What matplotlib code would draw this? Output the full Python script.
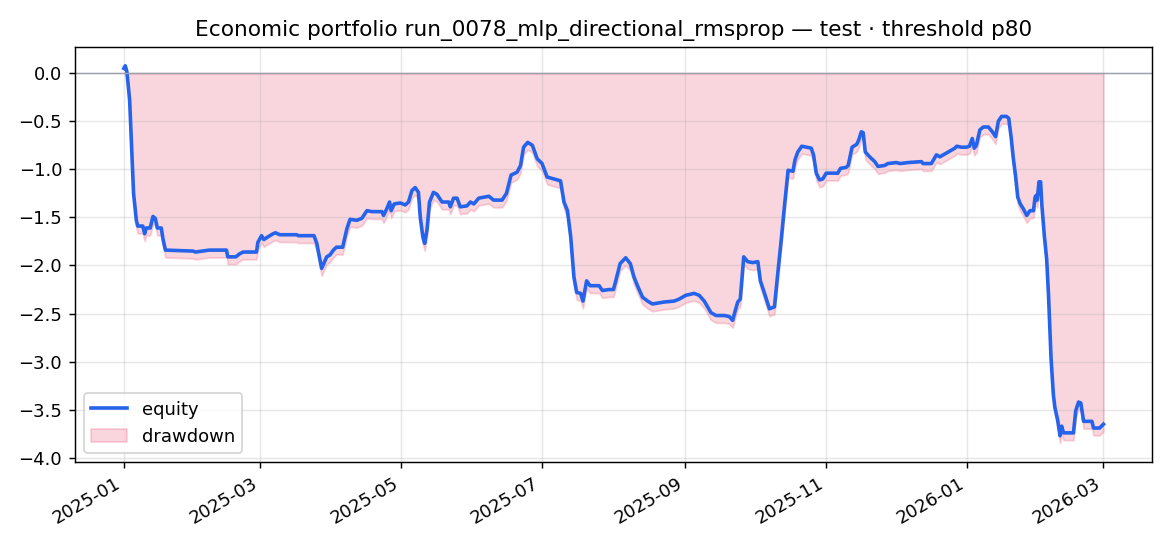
import numpy as np
import pandas as pd
import matplotlib
matplotlib.use("Agg")
import matplotlib.pyplot as plt
import matplotlib.dates as mdates

# days since 2025-01-01 and equity value
days = [0, 0.6, 1.3, 2.5, 4.2, 5.4, 6, 8.2, 9, 9.7, 11.4, 12.6, 13.6, 14.5, 16.2, 16.9, 18,
        29.9, 31, 37, 44.4, 45, 48.5, 50, 51.6, 57.4, 58, 59.6, 60.6, 62.5, 64.6, 65.6, 67.5,
        74.8, 75.5, 82.3, 83.5, 85.6, 87.8, 89.2, 90.7, 92, 94.7, 96.5, 97.9, 100.8, 103,
        105.2, 107.4, 111.7, 112.4, 113.8, 115, 115.7, 117, 119.6, 121.8, 123.2, 124.7,
        126.1, 127.5, 128.3, 129.4, 130.2, 131.2, 132.3, 134, 135.5, 137.7, 140.6, 141.3,
        142.7, 144.2, 145.6, 148.5, 150, 151.5, 153.6, 158, 160, 163.7, 165.6, 167.6, 170.2,
        171.7, 173, 174.8, 176.8, 178.9, 181, 183.2, 184.6, 187.6, 189, 190.5, 192, 193.4,
        194.8, 196, 197.7, 198.7, 200.3, 201.8, 203.5, 205.7, 207.1, 210, 211.9, 212.9,
        214.8, 217.2, 219.2, 220.8, 222.3, 224.5, 226.7, 228.8, 233.8, 238.2, 240.3, 243.2,
        246.8, 249, 251.2, 254.1, 256.3, 259.9, 262, 263.5, 264.5, 265.7, 266.8, 268.3, 270,
        272.2, 274.4, 275.5, 277.3, 279.4, 281.6, 283, 284.5, 285.9, 287.5, 289.6, 290.5,
        291.7, 293.4, 297.5, 298.5, 299.7, 301.1, 302.5, 304, 309, 310.2, 312.6, 313.5,
        315.2, 317.2, 318, 319.2, 320, 320.9, 322.8, 325, 326.4, 329.3, 330.7, 334.3, 336,
        339.4, 345.2, 345.9, 349.5, 351.7, 353.2, 356.8, 359.7, 360.5, 362.5, 364.7, 366,
        367.2, 368.1, 369, 370.5, 372, 374.2, 375.9, 377.3, 378.5, 379.9, 382, 383, 384, 385,
        386, 386.9, 388, 389.3, 390.8, 392.2, 393.7, 394.4, 394.9, 395.3, 396.1, 396.8,
        397.3, 398.4, 399.4, 400.2, 401.3, 402.3, 403, 404.2, 405.2, 405.9, 406.7, 411, 412,
        413.2, 414.2, 415.4, 419, 419.7, 422.3, 424]
equity = [0.05, 0.076, 0.017, -0.28, -1.25, -1.53, -1.59, -1.59, -1.67, -1.61, -1.61, -1.49,
          -1.51, -1.61, -1.61, -1.72, -1.84, -1.85, -1.86, -1.84, -1.84, -1.91, -1.91, -1.88,
          -1.86, -1.86, -1.76, -1.69, -1.73, -1.70, -1.67, -1.66, -1.68, -1.68, -1.69, -1.69,
          -1.77, -2.03, -1.91, -1.89, -1.84, -1.81, -1.81, -1.62, -1.52, -1.53, -1.51, -1.43,
          -1.44, -1.44, -1.48, -1.41, -1.34, -1.43, -1.36, -1.35, -1.37, -1.34, -1.22, -1.19,
          -1.24, -1.50, -1.70, -1.77, -1.63, -1.34, -1.24, -1.26, -1.34, -1.34, -1.39, -1.30,
          -1.30, -1.39, -1.38, -1.34, -1.36, -1.30, -1.28, -1.32, -1.32, -1.25, -1.06, -1.03,
          -0.96, -0.77, -0.72, -0.75, -0.89, -0.94, -1.08, -1.09, -1.11, -1.12, -1.34, -1.43,
          -1.70, -2.12, -2.28, -2.29, -2.37, -2.16, -2.21, -2.21, -2.21, -2.26, -2.25, -2.25,
          -2.16, -1.98, -1.92, -1.98, -2.12, -2.21, -2.33, -2.37, -2.40, -2.38, -2.37, -2.35,
          -2.31, -2.29, -2.31, -2.37, -2.49, -2.52, -2.52, -2.53, -2.57, -2.48, -2.38, -2.35,
          -1.91, -1.96, -1.97, -1.96, -2.16, -2.29, -2.45, -2.43, -2.09, -1.74, -1.39, -1.01,
          -1.02, -0.90, -0.82, -0.76, -0.78, -0.85, -1.04, -1.11, -1.10, -1.04, -1.04, -0.99,
          -0.98, -0.96, -0.77, -0.74, -0.70, -0.61, -0.62, -0.82, -0.87, -0.92, -0.97, -0.96,
          -0.94, -0.93, -0.94, -0.93, -0.92, -0.94, -0.94, -0.85, -0.87, -0.82, -0.78, -0.76,
          -0.77, -0.77, -0.76, -0.68, -0.78, -0.75, -0.59, -0.56, -0.56, -0.61, -0.66, -0.50,
          -0.45, -0.45, -0.47, -0.66, -0.89, -1.08, -1.29, -1.36, -1.41, -1.48, -1.43, -1.43,
          -1.29, -1.27, -1.32, -1.13, -1.13, -1.36, -1.69, -1.93, -2.30, -2.96, -3.34, -3.48,
          -3.61, -3.77, -3.67, -3.74, -3.74, -3.51, -3.42, -3.43, -3.62, -3.62, -3.69, -3.69,
          -3.65]

dates = pd.Timestamp("2025-01-01") + pd.to_timedelta(days, unit="D")
eq = pd.Series(equity, index=dates)
drawdown = eq - eq.cummax()

fig, ax = plt.subplots(figsize=(9, 4.2), dpi=130)
ax.plot(eq.index, eq.values, color="#2563eb", lw=2.0, label="equity")
ax.fill_between(eq.index, drawdown.values, 0, color="#e11d48", alpha=0.18, label="drawdown")
ax.axhline(0, color="#9ca3af", lw=0.8)
ax.set_title("Economic portfolio run_0078_mlp_directional_rmsprop — test · threshold p80", fontsize=12)
ax.grid(alpha=0.3)
ax.legend(loc="lower left")
ax.xaxis.set_major_locator(mdates.MonthLocator(bymonth=[1, 3, 5, 7, 9, 11]))
ax.xaxis.set_major_formatter(mdates.DateFormatter("%Y-%m"))
fig.autofmt_xdate()
fig.subplots_adjust(left=0.064, right=0.985, top=0.914, bottom=0.154)
fig.savefig("out.png", dpi=130)
